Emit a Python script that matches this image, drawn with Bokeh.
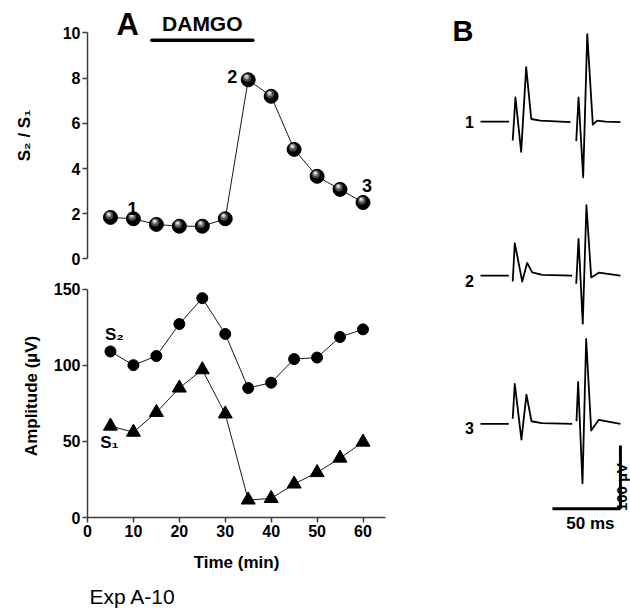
import numpy as np
from bokeh.plotting import figure
from bokeh.models import Range1d, FixedTicker, Label
from bokeh.layouts import row, column
from bokeh.embed import file_html
from bokeh.resources import INLINE

nan = float("nan")

# ---------------- data ----------------
time_min = [5, 10, 15, 20, 25, 30, 35, 40, 45, 50, 55, 60]
ratio_s2_s1 = [1.84, 1.78, 1.53, 1.45, 1.45, 1.78, 7.93, 7.20, 4.85, 3.66, 3.08, 2.50]
amp_s2 = [109, 100, 106, 127, 144, 120.5, 85, 88.5, 104, 105, 118.5, 123.5]
amp_s1 = [60, 56, 69, 85, 97, 68, 11.5, 12.5, 22, 29.5, 39, 49.5]
ratio_ticks = [0, 2, 4, 6, 8, 10]
amp_ticks = [0, 50, 100, 150]
time_ticks = [0, 10, 20, 30, 40, 50, 60]
damgo_period = [14, 36]
marked_index = [1, 6, 11]          # points labelled 1, 2, 3
marked_names = ["1", "2", "3"]

# evoked responses (ms, µV relative to baseline)
trace1_ms = [0, 21, nan, 23.7, 25.7, 29.9, 33.6, 37.3, 44, 51.5, 66.2, nan,
             70.4, 72.1, 75.5, 78.5, 82.6, 85.8, 92, 102.9]
trace1_uv = [0, 0, nan, -30, 38, -48, 86, 4, 1.5, 0.5, -1, nan,
             -31, 38, -88, 138, -5, 1.5, 0, -1]
trace2_ms = [0, 20.8, nan, 23.7, 25.2, 30.7, 34.3, 38, 45.4, 67.4, nan,
             70.4, 72.1, 75.2, 77.9, 81.4, 87, 102.9]
trace2_uv = [0, 0, nan, -9.5, 51, -9.5, 20, 5, 1, 0, nan,
             -13, 58, -76, 111, -3, 4.5, 0]
trace3_ms = [0, 20.8, nan, 23.7, 25.2, 30.1, 33.8, 37.5, 45, 67.4, nan,
             70.6, 71.8, 75, 77.7, 81.4, 87, 102.9]
trace3_uv = [0, 0, nan, 8, 63, -25, 46, 4, 1, 0, nan,
             4, 66, -94, 134, -10.6, 6.3, 0]
trace_names = ["1", "2", "3"]
scale_ms = 50
scale_uv = 100
caption = "Exp A-10"

# ---------------- layout constants ----------------
FONT = "Liberation Sans"
AX = "#3c3c3c"
W_LEFT, W_B = 430, 200
H_TOP, H_BOT, H_CAP = 270, 310, 29
BL, BR = 87, 45
X_RANGE = (0, 64.9)
TOP_Y = (-0.509, 11.438)


def style_axis(ax, label_standoff):
    ax.axis_line_color = AX
    ax.axis_line_width = 1.5
    ax.major_tick_line_color = AX
    ax.major_tick_line_width = 1.5
    ax.major_tick_out = 5
    ax.major_tick_in = 0
    ax.minor_tick_line_color = None
    ax.major_label_text_font = FONT
    ax.major_label_text_font_style = "bold"
    ax.major_label_text_font_size = "16px"
    ax.major_label_text_color = "black"
    ax.major_label_standoff = 2
    ax.axis_label_text_font = FONT
    ax.axis_label_text_font_style = "bold"
    ax.axis_label_text_font_size = "17px"
    ax.axis_label_text_color = "black"
    ax.axis_label_standoff = label_standoff


def clean(p):
    p.xgrid.visible = False
    p.ygrid.visible = False
    p.outline_line_color = None
    p.background_fill_color = "white"
    p.border_fill_color = "white"


def label(p, text, size, **kw):
    kw.setdefault("text_align", "center")
    kw.setdefault("text_baseline", "middle")
    kw.setdefault("text_font_style", "bold")
    p.add_layout(Label(text=text, text_font=FONT, text_font_size=size,
                       text_color="black", **kw))


# ---------------- top panel: S2/S1 ----------------
top = figure(width=W_LEFT, height=H_TOP, output_backend="svg", toolbar_location=None,
             x_range=Range1d(*X_RANGE), y_range=Range1d(*TOP_Y),
             min_border_left=BL, min_border_right=BR, min_border_top=0, min_border_bottom=0,
             x_axis_location=None)
clean(top)
top.yaxis.ticker = FixedTicker(ticks=ratio_ticks)
top.yaxis.bounds = (ratio_ticks[0], ratio_ticks[-1])
top.yaxis.axis_label = "S\u2082 / S\u2081"
style_axis(top.yaxis[0], 26)

top.line(time_min, ratio_s2_s1, line_color="#1a1a1a", line_width=1)
# shaded spheres
px_x = (X_RANGE[1] - X_RANGE[0]) / (W_LEFT - BL - BR)
px_y = (TOP_Y[1] - TOP_Y[0]) / H_TOP
top.scatter(time_min, ratio_s2_s1, size=14, marker="circle", fill_color="black", line_color="black")
top.scatter([t - 1.2 * px_x for t in time_min], [r + 2.0 * px_y for r in ratio_s2_s1],
            size=8, marker="circle", fill_color="#4a4a4a", line_color=None)
top.scatter([t - 1.6 * px_x for t in time_min], [r + 2.8 * px_y for r in ratio_s2_s1],
            size=5, marker="circle", fill_color="#9a9a9a", line_color=None)
top.scatter([t - 1.8 * px_x for t in time_min], [r + 3.2 * px_y for r in ratio_s2_s1],
            size=2.5, marker="circle", fill_color="#e8e8e8", line_color=None)

offs = [(-1, 10), (-16, 3), (4, 17)]
for idx, name, (dx, dy) in zip(marked_index, marked_names, offs):
    label(top, name, "18px", x=time_min[idx], y=ratio_s2_s1[idx], x_offset=dx, y_offset=dy)

# DAMGO bar
top.line(damgo_period, [9.68, 9.68], line_color="black", line_width=3.5, line_cap="round")
label(top, "DAMGO", "21px", x=sum(damgo_period) / 2, y=10.4)
label(top, "A", "31px", x=8.77, y=10.38)

# ---------------- bottom panel: amplitudes ----------------
bot = figure(width=W_LEFT, height=H_BOT, output_backend="svg", toolbar_location=None,
             x_range=Range1d(*X_RANGE), y_range=Range1d(0, 159.52),
             min_border_left=BL, min_border_right=BR, min_border_top=4, min_border_bottom=63)
clean(bot)
bot.yaxis.ticker = FixedTicker(ticks=amp_ticks)
bot.yaxis.bounds = (amp_ticks[0], amp_ticks[-1])
bot.yaxis.axis_label = "Amplitude (\u00b5V)"
bot.xaxis.ticker = FixedTicker(ticks=time_ticks)
bot.xaxis.axis_label = "Time (min)"
style_axis(bot.yaxis[0], 10)
style_axis(bot.xaxis[0], 13)
bot.xaxis.major_label_standoff = 2

bot.line(time_min, amp_s2, line_color="#1a1a1a", line_width=1)
bot.scatter(time_min, amp_s2, size=11, marker="circle", fill_color="black", line_color="black")
bot.line(time_min, amp_s1, line_color="#1a1a1a", line_width=1)
bot.scatter(time_min, amp_s1, size=14, marker="triangle", fill_color="black", line_color="black")

label(bot, "S\u2082", "17px", x=time_min[0], y=amp_s2[0], x_offset=4, y_offset=17)
label(bot, "S\u2081", "17px", x=time_min[0], y=amp_s1[0], x_offset=-1, y_offset=-16)

# ---------------- caption strip ----------------
cap = figure(width=W_LEFT, height=H_CAP, output_backend="svg", toolbar_location=None,
             x_range=Range1d(0, 1), y_range=Range1d(0, 1), min_border=0,
             x_axis_location=None, y_axis_location=None)
clean(cap)
label(cap, caption, "21px", x=2, y=13, x_units="screen", y_units="screen",
      text_align="left", text_font_style="normal")

# ---------------- panel B: traces ----------------
pb = figure(width=W_B, height=H_TOP + H_BOT + H_CAP, output_backend="svg",
            toolbar_location=None, x_range=Range1d(-36.76, 110.3), y_range=Range1d(0, 962.1),
            min_border=0, x_axis_location=None, y_axis_location=None)
clean(pb)
TRACE_OFFSETS = [770.9, 527.6, 293.4]
for (ts, vs), off, name, lab_dy in zip([(trace1_ms, trace1_uv), (trace2_ms, trace2_uv),
                                        (trace3_ms, trace3_uv)], TRACE_OFFSETS, trace_names,
                                       [0, -5, -4]):
    pb.line(ts, [v + off for v in vs], line_color="black", line_width=1.8, line_join="round")
    label(pb, name, "16px", x=-8.2, y=off, y_offset=lab_dy)

label(pb, "B", "29px", x=-12.9, y=914.7)

SB_X, SB_Y = 102.9, 159.1
pb.line([SB_X - scale_ms, SB_X], [SB_Y, SB_Y], line_color="black", line_width=3)
pb.line([SB_X, SB_X], [SB_Y, SB_Y + scale_uv], line_color="black", line_width=3)
label(pb, f"{scale_ms} ms", "17px", x=SB_X - scale_ms / 2, y=SB_Y, x_offset=4, y_offset=-15)
label(pb, f"{scale_uv} \u00b5V", "15px", x=SB_X, y=SB_Y + scale_uv / 2, x_offset=1,
      y_offset=-10, angle=np.pi / 2)

layout = row(column(top, bot, cap, spacing=0), pb, spacing=0)
open("out.html", "w").write(file_html(layout, INLINE))
